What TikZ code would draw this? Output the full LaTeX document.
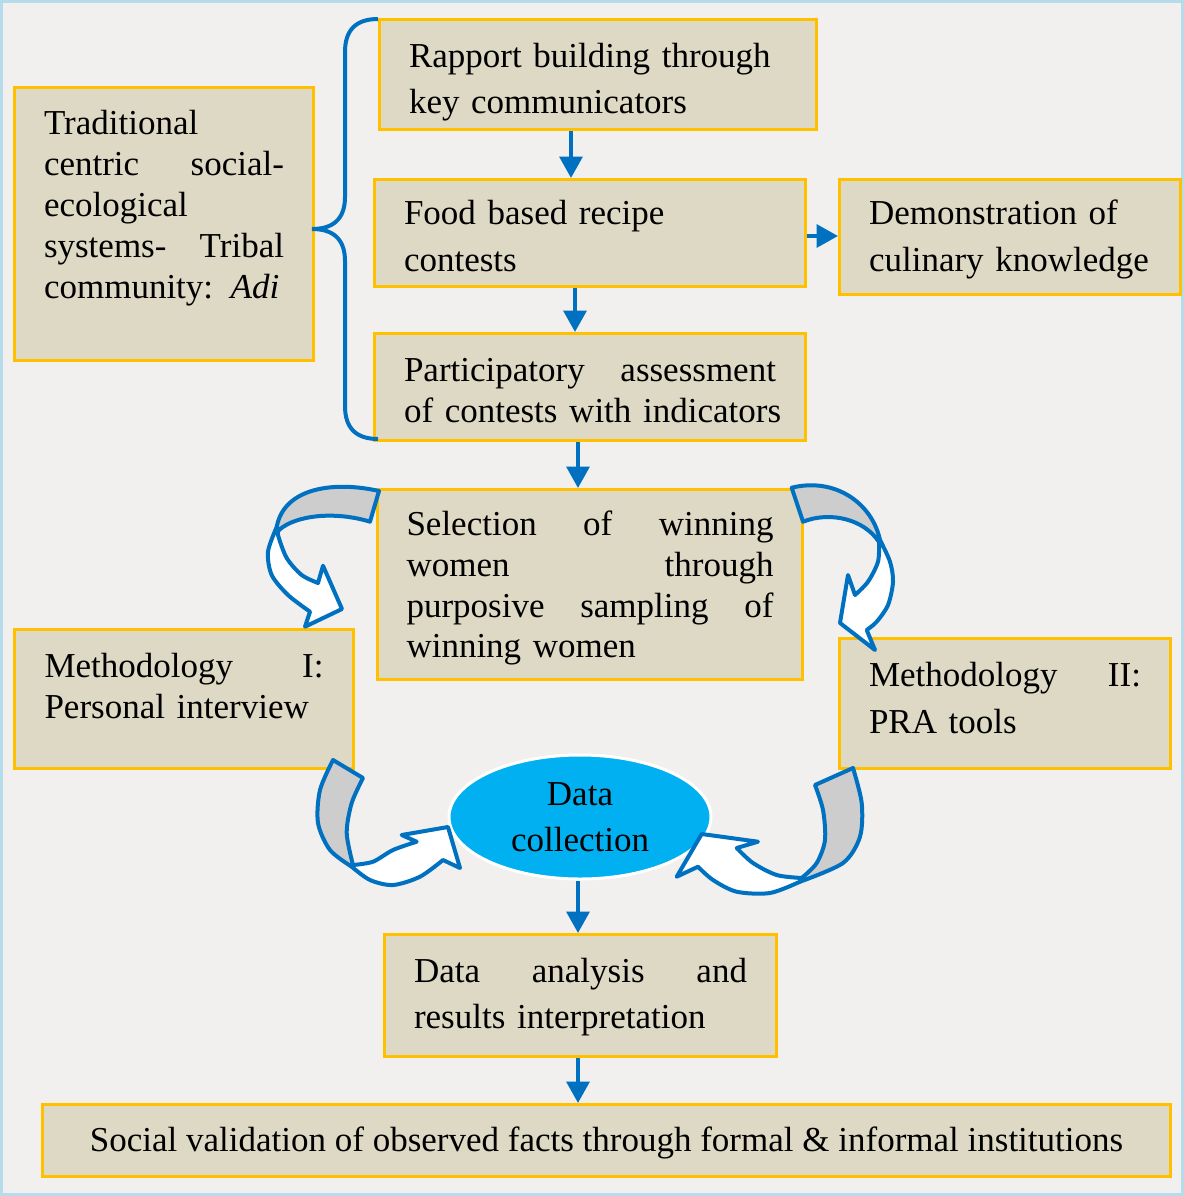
\documentclass[tikz,border=0pt]{standalone}
\usepackage{fontspec}
\setmainfont{Liberation Serif}
\usetikzlibrary{arrows.meta,shapes.geometric}
\definecolor{bgc}{HTML}{F1F0EE}
\definecolor{framec}{HTML}{B4DCEB}
\definecolor{boxfill}{HTML}{DDD9C4}
\definecolor{boxline}{HTML}{FFC000}
\definecolor{blu}{HTML}{0070C0}
\definecolor{cyanf}{HTML}{00B0F0}
\definecolor{grayf}{HTML}{CDCDCD}
\newcommand\dropby[1]{\rule[-#1]{0pt}{#1}}
\newcommand\topup[1]{\rule{0pt}{#1}}
\begin{document}
\begin{tikzpicture}[x=0.75pt,y=-0.75pt,
  ls/.style={font=\fontsize{26.25}{#1}\selectfont},
  box/.style={draw=boxline, fill=boxfill, line width=2.25pt, inner sep=0pt, align=left},
  arr/.style={draw=blu, line width=3pt, -{Triangle[length=16pt,width=17pt]}},
  curv/.style={draw=blu, line width=3pt, line join=round},
  ]
\useasboundingbox (0,0) rectangle (1184,1196);
\fill[bgc] (0,0) rectangle (1184,1196);
\draw[framec, line width=2.25pt] (1.5,1.5) rectangle (1182.5,1194.5);

% boxes
\node[box, ls=30.75pt, minimum width=299*0.75pt, minimum height=273*0.75pt, text width=240*0.75pt] (trad) at (164,224)
  {Traditional\\ centric\hfill social-\\ ecological\\ systems-\hfill Tribal\\ community: \textit{Adi}\dropby{29pt}};
\node[box, ls=34.5pt, minimum width=437*0.75pt, minimum height=110*0.75pt, text width=378*0.75pt] (rap) at (598,74.5)
  {\topup{30pt}\mbox{Rapport building through}\\key communicators};
\node[box, ls=35.25pt, minimum width=431*0.75pt, minimum height=107*0.75pt, text width=372*0.75pt] (food) at (590,233)
  {\topup{22.5pt}Food based recipe\\contests};
\node[box, ls=35.25pt, minimum width=341*0.75pt, minimum height=115*0.75pt, text width=282*0.75pt] (demo) at (1010,237)
  {\topup{22.5pt}Demonstration of\\\mbox{culinary knowledge}};
\node[box, ls=30.75pt, minimum width=431*0.75pt, minimum height=107*0.75pt, text width=372*0.75pt] (part) at (590,387)
  {\topup{22.5pt}Participatory\hfill assessment\\\mbox{of contests with indicators}};
\node[box, ls=30.6pt, minimum width=425*0.75pt, minimum height=190*0.75pt, text width=367*0.75pt] (sel) at (590,584.5)
  {\topup{24pt}Selection\hfill of\hfill winning\\women\hfill through\\purposive\hfill sampling\hfill of\\winning women};
\node[box, ls=30.75pt, minimum width=339*0.75pt, minimum height=139*0.75pt, text width=279*0.75pt] (m1) at (184,699)
  {Methodology\hfill I:\\\mbox{Personal interview}\dropby{20pt}};
\node[box, ls=35.25pt, minimum width=331*0.75pt, minimum height=130*0.75pt, text width=272*0.75pt] (m2) at (1005,703.5)
  {Methodology\hfill II:\\PRA tools\dropby{9pt}};
\node[ellipse, draw=white, line width=2.25pt, fill=cyanf, minimum width=262*0.75pt, minimum height=124*0.75pt,
  inner sep=0pt, align=center, ls=34.5pt] (dc) at (580,817) {Data\\collection};
\node[box, ls=34.5pt, minimum width=392*0.75pt, minimum height=122*0.75pt, text width=333*0.75pt] (ana) at (580.5,995.5)
  {\topup{21pt}Data\hfill analysis\hfill and\\\mbox{results interpretation}};
\node[box, ls=34.5pt, align=center, minimum width=1128*0.75pt, minimum height=72*0.75pt] (soc) at (606.5,1140.5)
  {\topup{22.5pt}Social validation of observed facts through formal \& informal institutions};

% straight connectors
\coordinate (c571) at (571,0);
\coordinate (c575) at (575,0);
\coordinate (c578) at (578,0);
\coordinate (r236) at (0,236);
\draw[arr] (rap.south -| c571) -- (food.north -| c571);
\draw[arr] (food.east |- r236) -- (demo.west |- r236);
\draw[arr] (food.south -| c575) -- (part.north -| c575);
\draw[arr] (part.south -| c578) -- (sel.north -| c578);
\draw[arr] (dc.south -| c578) -- (ana.north -| c578);
\draw[arr] (ana.south -| c578) -- (soc.north -| c578);

% brace
\draw[blu, line width=3pt] (378,19) .. controls (356,19) and (345,30) .. (345,52) -- (345,197)
  .. controls (345,220) and (332,229) .. (312,229)
  .. controls (332,229) and (345,238) .. (345,261) -- (345,406)
  .. controls (345,428) and (356,439) .. (378,439);

% curved arrow 1 (top left)
\filldraw[curv, fill=white] plot[smooth] coordinates {(276.7,527) (268,551.7) (271.7,575) (288,595) (310,611.7)}
  -- (305,626.7) -- (342,609) -- (323,565.7)
  -- plot[smooth] coordinates {(318,583) (301.7,575) (286.7,558) (278,535) (279,530)} -- cycle;
\filldraw[curv, fill=grayf] (379,491) .. controls (335,481) and (284,487) .. (276.7,527)
  -- (279,530) .. controls (296,515) and (335,511) .. (370,521.7) -- cycle;

% curved arrow 2 (top right)
\filldraw[curv, fill=white] plot[smooth] coordinates {(880,540) (890,561.7) (893,581.7) (888,605) (876.7,621.7) (866.7,630)}
  -- (875,650) -- (840,623) -- (848,575)
  -- plot[smooth] coordinates {(855,595) (868,581.7) (878,561.7) (879,542)} -- cycle;
\filldraw[curv, fill=grayf] (791.7,487.7) .. controls (835,477) and (872,503) .. (880,540)
  -- (879,542) .. controls (864,519) and (830,511) .. (803,521.7) -- cycle;

% curved arrow 3 (bottom left)
\filldraw[curv, fill=white] plot[smooth] coordinates {(351.7,866.7) (370,880) (393,885) (420,876.7) (443,860)}
  -- (460,868) -- (448,827) -- (401.7,835)
  -- plot[smooth] coordinates {(416.7,841.7) (393,850) (373,861.7) (353,865)} -- cycle;
\filldraw[curv, fill=grayf] plot[smooth] coordinates {(333,760) (320,790) (318,823) (330,850) (351.7,866.7)}
  -- plot[smooth] coordinates {(353,865) (346.7,833) (351.7,803) (363,778)} -- cycle;

% curved arrow 4 (bottom right)
\filldraw[curv, fill=white] plot[smooth] coordinates {(800,881.7) (770,893) (736.7,891.7) (713,880) (698,866.7)}
  -- (676.7,876.7) -- (701.7,834) -- (758,841.7)
  -- plot[smooth] coordinates {(736.7,848) (753,863) (776.7,875) (801.7,878)} -- cycle;
\filldraw[curv, fill=grayf] plot[smooth] coordinates {(853,768) (861.7,803) (860,836.7) (843,863) (800,881.7)}
  -- plot[smooth] coordinates {(801.7,878) (816.7,863) (825,840) (823,810) (815,785)} -- cycle;
\end{tikzpicture}
\end{document}
